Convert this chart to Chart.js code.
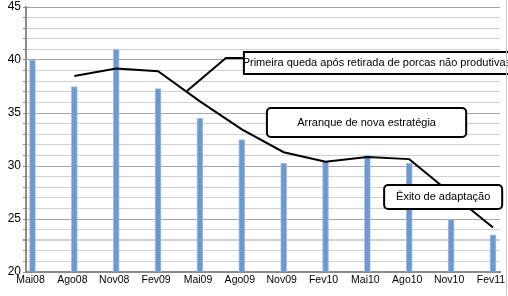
<!DOCTYPE html>
<html>
<head>
<meta charset="utf-8">
<script src="https://cdn.jsdelivr.net/npm/chart.js@4/dist/chart.umd.min.js"></script>
<style>
html,body{margin:0;padding:0;background:#fff;}
#wrap{position:relative;width:508px;height:296px;}
</style>
</head>
<body>
<div id="wrap"><canvas id="c" width="508" height="296"></canvas></div>
<script>
const categories = ['Mai08','Ago08','Nov08','Fev09','Mai09','Ago09','Nov09','Fev10','Mai10','Ago10','Nov10','Fev11'];
const barValues = [40.0, 37.5, 41.0, 37.3, 34.5, 32.5, 30.25, 30.45, 31.0, 30.25, 25.0, 23.5];
const lineValues = [null, 38.5, 39.2, 38.95, 36.1, 33.45, 31.3, 30.4, 30.85, 30.65, 27.4, 24.2];
const yMin = 20, yMax = 45;

const annotations = [
  {text:'Primeira queda após retirada de porcas não produtivas', x1:5.05, x2:11.5, y1:40.75, y2:38.68, radius:0, align:'left', textX:5.02,
   pointer:[[3.69,37.08],[4.62,40.19],[5.05,40.19]]},
  {text:'Arranque de nova estratégia', x1:5.6, x2:10.36, y1:35.47, y2:32.73, radius:4, align:'center'},
  {text:'Êxito de adaptação', x1:8.4, x2:11.22, y1:28.2, y2:25.95, radius:4, align:'center'}
];

const annotationPlugin = {
  id:'boxes',
  afterDatasetsDraw(chart){
    const {ctx, scales:{x, y}} = chart;
    ctx.save();
    ctx.font = '11px "Liberation Sans", Arial, sans-serif';
    ctx.textBaseline = 'middle';
    annotations.forEach(a=>{
      const l = x.getPixelForValue(a.x1), r = x.getPixelForValue(a.x2);
      const t = y.getPixelForValue(a.y1), b = y.getPixelForValue(a.y2);
      if (a.pointer){
        ctx.beginPath();
        a.pointer.forEach((p,i)=>{
          const px = x.getPixelForValue(p[0]), py = y.getPixelForValue(p[1]);
          if(i===0) ctx.moveTo(px,py); else ctx.lineTo(px,py);
        });
        ctx.strokeStyle='#000'; ctx.lineWidth=2; ctx.stroke();
      }
      ctx.beginPath();
      if (ctx.roundRect) ctx.roundRect(l,t,r-l,b-t,a.radius); else ctx.rect(l,t,r-l,b-t);
      ctx.fillStyle='#fff'; ctx.fill();
      ctx.strokeStyle='#000'; ctx.lineWidth=2; ctx.stroke();
      ctx.fillStyle='#000';
      if (a.align==='left'){
        ctx.textAlign='left';
        ctx.fillText(a.text, x.getPixelForValue(a.textX), (t+b)/2);
      } else {
        ctx.textAlign='center';
        ctx.fillText(a.text, (l+r)/2, (t+b)/2);
      }
    });
    ctx.restore();
  },
  afterDraw(chart){
    const ctx = chart.ctx;
    ctx.save();
    ctx.strokeStyle='#c8c8c8'; ctx.lineWidth=1;
    ctx.beginPath(); ctx.moveTo(506.5,0); ctx.lineTo(506.5,296); ctx.stroke();
    ctx.restore();
  }
};

const barData = barValues.map((v,i)=>({x:i, y:v}));
const lineData = lineValues.map((v,i)=>({x:i, y:v}));

new Chart(document.getElementById('c'), {
  type:'bar',
  data:{
    datasets:[
      {type:'line', data:lineData, borderColor:'#000', borderWidth:2, pointRadius:0, fill:false, tension:0, spanGaps:false, order:0},
      {type:'bar', data:barData, backgroundColor:'#6a9acf', borderColor:'#a9bbea', borderWidth:{left:1,right:1,top:1,bottom:0}, barThickness:6, order:1}
    ]
  },
  plugins:[annotationPlugin],
  options:{
    responsive:false,
    animation:false,
    events:[],
    layout:{padding:{top:7,right:8,left:0,bottom:0}},
    plugins:{legend:{display:false}, tooltip:{enabled:false}},
    scales:{
      x:{
        type:'linear',
        offset:false,
        min:-0.1553, max:11.168,
        afterBuildTicks(s){ s.ticks = categories.map((_,i)=>({value:i})); },
        afterFit(s){ s.height = 24; s.paddingLeft = 0; s.paddingRight = 0; },
        grid:{display:false, drawTicks:false},
        border:{display:true, color:'#8c8c8c', width:2},
        ticks:{
          callback:(v)=>categories[v] ?? '',
          font:{family:'"Liberation Sans", Arial, sans-serif', size:10.5},
          color:'#000', padding:2, labelOffset:-2, maxRotation:0, autoSkip:false
        }
      },
      y:{
        min:yMin, max:yMax,
        afterBuildTicks(s){ const t=[]; for(let v=yMin; v<=yMax; v++) t.push({value:v}); s.ticks=t; },
        afterFit(s){ s.width = 26; s.paddingTop = 0; s.paddingBottom = 0; },
        grid:{
          color:(c)=> (c.tick && c.tick.value % 5 === 0) ? '#a6a6a6' : '#d0d0d0',
          lineWidth:(c)=> (c.tick && c.tick.value === 23) ? 2 : 1,
          tickColor:'#8c8c8c', tickLength:3, drawTicks:true
        },
        border:{display:true, color:'#8c8c8c', width:2},
        ticks:{
          callback:(v)=> v % 5 === 0 ? String(v) : '',
          font:{family:'"Liberation Sans", Arial, sans-serif', size:12},
          color:'#000', padding:2, autoSkip:false
        }
      }
    }
  }
});
</script>
</body>
</html>
